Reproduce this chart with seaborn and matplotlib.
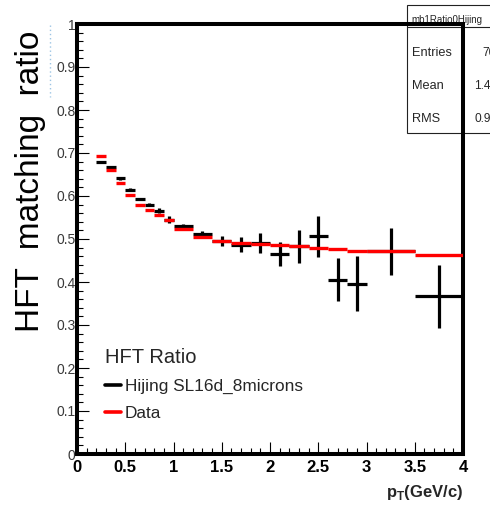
import matplotlib
matplotlib.use("Agg")
import matplotlib.pyplot as plt
from matplotlib.lines import Line2D
from matplotlib.patches import Rectangle
import numpy as np
import seaborn as sns

# pT bin edges (GeV/c)
bin_edges = [0.2, 0.3, 0.4, 0.5, 0.6, 0.7, 0.8, 0.9, 1.0, 1.2, 1.4, 1.6,
             1.8, 2.0, 2.2, 2.4, 2.6, 2.8, 3.0, 3.5, 4.0]

# HFT matching ratio, Hijing simulation with statistical errors
hijing_ratio = [0.680, 0.668, 0.641, 0.615, 0.593, 0.580, 0.566, 0.545,
                0.530, 0.512, 0.495, 0.487, 0.491, 0.465, 0.483, 0.506,
                0.405, 0.396, 0.471, 0.367]
hijing_err = [0.002, 0.002, 0.003, 0.003, 0.003, 0.003, 0.005, 0.008,
              0.004, 0.006, 0.012, 0.017, 0.023, 0.027, 0.038, 0.048,
              0.050, 0.064, 0.054, 0.073]

# HFT matching ratio, data
data_ratio = [0.694, 0.660, 0.631, 0.603, 0.580, 0.567, 0.556, 0.544,
              0.523, 0.504, 0.495, 0.490, 0.489, 0.486, 0.483, 0.479,
              0.476, 0.473, 0.471, 0.462]

stats_labels = ["Entries", "Mean", "RMS"]
stats_values = ["70", "1.431", "0.9844"]

sns.set_theme(style="white")
plt.rcParams["font.family"] = ["Liberation Sans", "DejaVu Sans"]
plt.rcParams["mathtext.fontset"] = "custom"
plt.rcParams["mathtext.rm"] = "Liberation Sans"
plt.rcParams["mathtext.bf"] = "Liberation Sans:bold"

W, H = 490, 505
fig = plt.figure(figsize=(W / 100, H / 100), dpi=100)
fig.patch.set_facecolor("white")


def fx(px):
    return px / W


def fy(py):
    return 1 - py / H


ax = fig.add_axes([fx(77), fy(454), fx(463) - fx(77), fy(24) - fy(454)])
ax.set_zorder(5)
ax.patch.set_alpha(0)

edges = np.array(bin_edges)
centers = (edges[:-1] + edges[1:]) / 2
half = (edges[1:] - edges[:-1]) / 2

ax.errorbar(centers, hijing_ratio, xerr=half, yerr=hijing_err, fmt="none",
            ecolor="black", elinewidth=2.3, capsize=0, zorder=3)
ax.hlines(data_ratio, edges[:-1], edges[1:], colors="#ff0000",
          linewidth=2.4, zorder=4)

ax.set_xlim(0, 4)
ax.set_ylim(0, 1)
ax.set_xticks(np.arange(0, 4.01, 0.5))
ax.set_xticklabels(["0", "0.5", "1", "1.5", "2", "2.5", "3", "3.5", "4"],
                   fontweight="bold", fontsize=12, color="black")
ax.set_xticks(np.arange(0, 4.01, 0.1), minor=True)
ax.set_yticks(np.arange(0, 1.01, 0.1))
ax.set_yticklabels(["0", "0.1", "0.2", "0.3", "0.4", "0.5", "0.6", "0.7",
                    "0.8", "0.9", "1"], fontsize=10, color="#3a3a3a")
ax.set_yticks(np.arange(0, 1.001, 0.02), minor=True)
ax.tick_params(axis="both", which="major", direction="in", length=8.5,
               width=0.8, color="black", left=True, bottom=True)
ax.tick_params(axis="both", which="minor", direction="in", length=4.3,
               width=0.8, color="black", left=True, bottom=True)
ax.tick_params(axis="y", which="major", pad=1)
ax.tick_params(axis="x", which="major", pad=4)
for s in ax.spines.values():
    s.set_linewidth(2.9)
    s.set_color("black")
ax.grid(False)

# legend
handles = [Line2D([], [], color="black", lw=2.6),
           Line2D([], [], color="#ff0000", lw=2.6)]
leg = ax.legend(handles, ["Hijing SL16d_8microns", "Data"], title="HFT Ratio",
                loc="upper left", bbox_to_anchor=(fx(105), fy(348)),
                bbox_transform=fig.transFigure, frameon=False, fontsize=12.4,
                title_fontsize=14.5, alignment="left", handlelength=0.95,
                handletextpad=0.2, labelspacing=0.68, borderpad=0,
                borderaxespad=0)

# axis titles
fig.text(fx(31), fy(31), "HFT  matching  ratio", rotation=90, ha="center",
         va="top", fontsize=24, color="black")
fig.text(fx(463), fy(492), r"$\mathbf{p}_{\mathbf{T}}$(GeV/c)", ha="right",
         va="center", fontsize=12, fontweight="bold")
fig.add_artist(Line2D([fx(50), fx(50)], [fy(25), fy(97)], color="#9cc4e4",
                      lw=1, ls=(0, (1, 2)), zorder=1))

# statistics box
fig.add_artist(Rectangle((fx(407), fy(133)), fx(95), fy(5) - fy(133),
                         transform=fig.transFigure, facecolor="white",
                         edgecolor="#222222", lw=0.8, zorder=2))
fig.add_artist(Line2D([fx(407), fx(500)], [fy(27), fy(27)], color="#222222",
                      lw=0.8, zorder=2))
fig.text(fx(411), fy(23), "mb1Ratio0Hijing", fontsize=7, ha="left",
         va="baseline", zorder=3)
value_x = [482, 474, 474]
for i, (lab, val) in enumerate(zip(stats_labels, stats_values)):
    yy = fy(53 + 33 * i)
    fig.text(fx(412), yy, lab, fontsize=9.2, ha="left", va="center", zorder=3)
    fig.text(fx(value_x[i]), yy, val, fontsize=8.6, ha="left", va="center",
             family=["Liberation Sans Narrow", "Liberation Sans"], zorder=3)

fig.savefig("out.png", dpi=100)
